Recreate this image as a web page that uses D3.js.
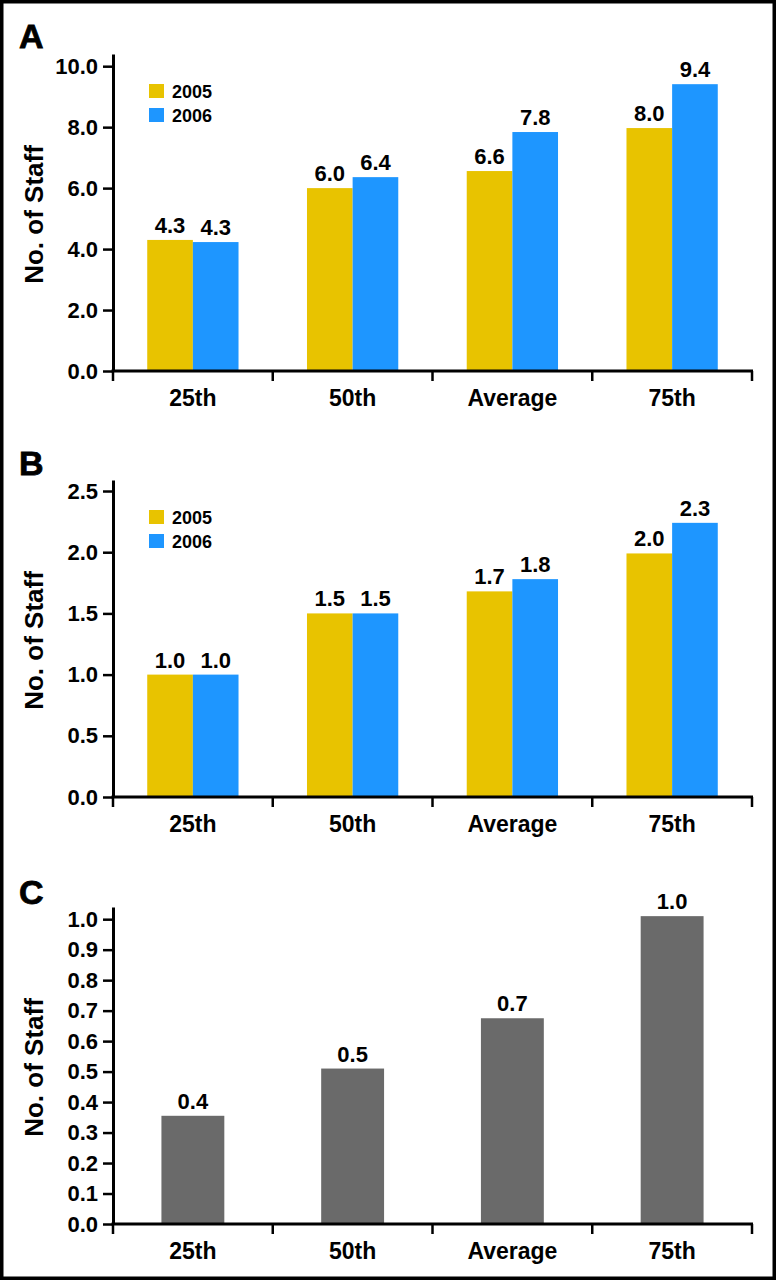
<!DOCTYPE html>
<html>
<head>
<meta charset="utf-8">
<script src="https://cdn.jsdelivr.net/npm/d3@7"></script>
<style>
  body { margin: 0; background: #fff; }
  svg { display: block; font-family: "Liberation Sans", Arial, sans-serif; }
</style>
</head>
<body>
<div class="container"></div>
<script>
// categories and series
var categories = ['25th', '50th', 'Average', '75th'];
var years = ['2005', '2006'];

// panel A (bar heights, printed labels separately)
var a2005 = [4.3, 6.0, 6.56, 7.97];
var a2006 = [4.23, 6.36, 7.84, 9.41];
var a2005Labels = ['4.3', '6.0', '6.6', '8.0'];
var a2006Labels = ['4.3', '6.4', '7.8', '9.4'];
var aTicks = [0, 2, 4, 6, 8, 10];

// panel B
var b2005 = [1.0, 1.5, 1.68, 1.99];
var b2006 = [1.0, 1.5, 1.78, 2.24];
var b2005Labels = ['1.0', '1.5', '1.7', '2.0'];
var b2006Labels = ['1.0', '1.5', '1.8', '2.3'];
var bTicks = [0, 0.5, 1, 1.5, 2, 2.5];

// panel C
var cValues = [0.355, 0.51, 0.675, 1.01];
var cLabels = ['0.4', '0.5', '0.7', '1.0'];
var cTicks = [0, 0.1, 0.2, 0.3, 0.4, 0.5, 0.6, 0.7, 0.8, 0.9, 1.0];

var colors = { '2005': '#e8c300', '2006': '#1e96ff', single: '#6a6a6a' };

var width = 776, height = 1280;
var left = 113, right = 752, plotH = 317;
var tickFont = 22, valueFont = 22, catFont = 23;

var svg = d3.select('.container').append('svg')
    .attr('width', width).attr('height', height);

svg.append('rect')
    .attr('x', 1.75).attr('y', 1.75)
    .attr('width', width - 3.5).attr('height', height - 3.5)
    .attr('fill', 'none').attr('stroke', '#000').attr('stroke-width', 3.5);

var x = d3.scaleBand().domain(categories).range([left, right]).padding(0);

function drawPanel(opts) {
    var top = opts.top, bottom = top + plotH;
    var g = svg.append('g');

    var y = d3.scaleLinear().domain([0, opts.yMax]).range([bottom, top]);

    // panel letter
    g.append('text')
        .attr('x', 19).attr('y', opts.letterY)
        .attr('font-size', 34).attr('font-weight', 'bold')
        .attr('stroke', '#000').attr('stroke-width', 0.8)
        .text(opts.letter);

    // y label
    g.append('text')
        .attr('transform', 'translate(43,' + ((top + bottom) / 2 + 2) + ') rotate(-90)')
        .attr('text-anchor', 'middle')
        .attr('font-size', 26).attr('font-weight', 'bold')
        .text('No. of Staff');

    // bars
    if (opts.series) {
        var x1 = d3.scaleBand().domain(years).range([0, x.bandwidth()])
            .paddingInner(0).paddingOuter(0.75);
        opts.series.forEach(function (s) {
            var bars = g.append('g');
            bars.selectAll('rect')
                .data(s.values)
                .enter()
                .append('rect')
                .attr('x', function (d, i) { return x(categories[i]) + x1(s.year); })
                .attr('y', function (d) { return y(d); })
                .attr('width', x1.bandwidth())
                .attr('height', function (d) { return bottom - y(d); })
                .attr('fill', colors[s.year]);
            bars.selectAll('text')
                .data(s.values)
                .enter()
                .append('text')
                .attr('x', function (d, i) { return x(categories[i]) + x1(s.year) + x1.bandwidth() / 2; })
                .attr('y', function (d) { return y(d) - 7; })
                .attr('text-anchor', 'middle')
                .attr('font-size', valueFont).attr('font-weight', 'bold')
                .text(function (d, i) { return s.labels[i]; });
        });

        // legend
        var legend = g.append('g');
        years.forEach(function (yr, i) {
            legend.append('rect')
                .attr('x', 149).attr('y', top + 30 + i * 24)
                .attr('width', 15).attr('height', 14)
                .attr('fill', colors[yr]);
            legend.append('text')
                .attr('x', 172).attr('y', top + 44 + i * 24)
                .attr('font-size', 18).attr('font-weight', 'bold')
                .text(yr);
        });
    } else {
        var xs = d3.scaleBand().domain(['v']).range([0, x.bandwidth()])
            .paddingInner(0).paddingOuter(0.77);
        g.selectAll('rect.bar')
            .data(opts.values)
            .enter()
            .append('rect')
            .attr('class', 'bar')
            .attr('x', function (d, i) { return x(categories[i]) + xs('v'); })
            .attr('y', function (d) { return y(d); })
            .attr('width', xs.bandwidth())
            .attr('height', function (d) { return bottom - y(d); })
            .attr('fill', colors.single);
        g.selectAll('text.val')
            .data(opts.values)
            .enter()
            .append('text')
            .attr('class', 'val')
            .attr('x', function (d, i) { return x(categories[i]) + x.bandwidth() / 2; })
            .attr('y', function (d) { return y(d) - 7; })
            .attr('text-anchor', 'middle')
            .attr('font-size', valueFont).attr('font-weight', 'bold')
            .text(function (d, i) { return opts.labels[i]; });
    }

    // y axis
    var yAxis = g.append('g')
        .attr('transform', 'translate(' + left + ',0)')
        .call(d3.axisLeft(y).tickValues(opts.ticks).tickSize(10).tickSizeOuter(0)
            .tickPadding(5).tickFormat(d3.format('.1f')));
    yAxis.select('.domain').attr('stroke-width', 3);
    yAxis.selectAll('.tick line').attr('stroke-width', 2.5);
    yAxis.selectAll('.tick text')
        .attr('font-size', tickFont).attr('font-weight', 'bold')
        .attr('font-family', '"Liberation Sans", Arial, sans-serif')
        .attr('fill', '#000');

    // x axis
    g.append('line')
        .attr('x1', left - 1.5).attr('x2', right + 1)
        .attr('y1', bottom).attr('y2', bottom)
        .attr('stroke', '#000').attr('stroke-width', 3);
    var bounds = categories.map(function (c) { return x(c); }).concat([x.range()[1]]);
    g.selectAll('line.xtick')
        .data(bounds)
        .enter()
        .append('line')
        .attr('class', 'xtick')
        .attr('x1', function (d) { return d; }).attr('x2', function (d) { return d; })
        .attr('y1', bottom).attr('y2', bottom + 10)
        .attr('stroke', '#000').attr('stroke-width', 2.5);
    g.selectAll('text.xlab')
        .data(categories)
        .enter()
        .append('text')
        .attr('class', 'xlab')
        .attr('x', function (d) { return x(d) + x.bandwidth() / 2; })
        .attr('y', bottom + 35)
        .attr('text-anchor', 'middle')
        .attr('font-size', catFont).attr('font-weight', 'bold')
        .text(function (d) { return d; });
}

drawPanel({
    letter: 'A', letterY: 48, top: 54, yMax: 10.4, ticks: aTicks,
    series: [
        { year: '2005', values: a2005, labels: a2005Labels },
        { year: '2006', values: a2006, labels: a2006Labels }
    ]
});

drawPanel({
    letter: 'B', letterY: 475, top: 480, yMax: 2.59, ticks: bTicks,
    series: [
        { year: '2005', values: b2005, labels: b2005Labels },
        { year: '2006', values: b2006, labels: b2006Labels }
    ]
});

drawPanel({
    letter: 'C', letterY: 904, top: 907, yMax: 1.04, ticks: cTicks,
    values: cValues, labels: cLabels
});
</script>
</body>
</html>
